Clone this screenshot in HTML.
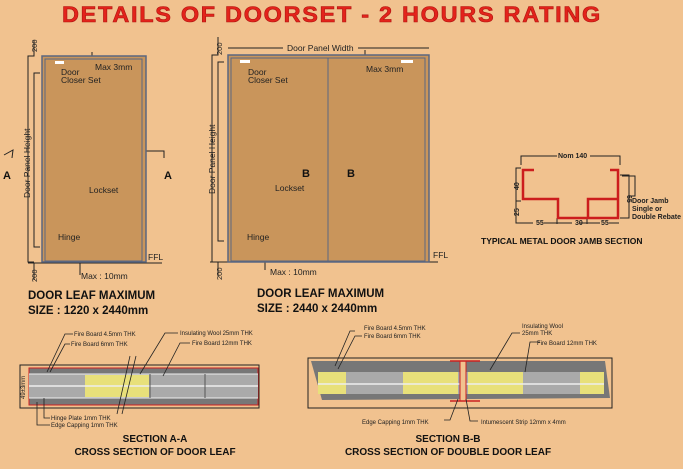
<!DOCTYPE html>
<html><head><meta charset="utf-8"><style>
html,body{margin:0;padding:0;background:#f1c28f;}
svg{display:block;font-family:"Liberation Sans",Arial,sans-serif;}
</style></head><body>
<svg width="683" height="469" viewBox="0 0 683 469">
<rect width="683" height="469" fill="#f1c28f"/>
<text x="332" y="22" text-anchor="middle" font-size="22" font-weight="bold" fill="#e3231b" stroke="#b01510" stroke-width="0.6" letter-spacing="1.6" textLength="540" lengthAdjust="spacingAndGlyphs">DETAILS OF DOORSET - 2 HOURS RATING</text>

<!-- Single door -->
<g stroke="#222" fill="none" stroke-width="1">
<polyline points="34,40 34,56 28,56 28,262 34,262"/>
<polyline points="40,73 34,73 34,247 40,247"/>
<line x1="28" y1="263" x2="162" y2="263"/>
<line x1="34" y1="263" x2="34" y2="280"/>
<line x1="92" y1="52" x2="92" y2="62"/>
<line x1="80" y1="255" x2="80" y2="275"/>
<polyline points="4,155 13,150 12,158"/>
<polyline points="145,151 164,151 164,158"/>
<path d="M122,160 q8,0 12,6"/>
<path d="M48,240 q2,-5 4,-6"/>
<polyline points="53,62 53,74 58,74"/>
</g>
<rect x="42" y="56" width="104" height="206" fill="#c9955b" stroke="#5a6680" stroke-width="1.5"/>
<rect x="45" y="59" width="97" height="202" fill="none" stroke="#5a6680" stroke-width="1"/>
<rect x="55" y="61" width="9" height="3" fill="#fff"/>
<g font-size="8.5" fill="#222">
<text x="61" y="75">Door</text><text x="61" y="83">Closer Set</text>
<text x="95" y="70">Max 3mm</text>
<text x="89" y="193">Lockset</text>
<text x="58" y="240">Hinge</text>
<text x="148" y="260">FFL</text>
<text x="81" y="279">Max : 10mm</text>
<text transform="translate(30,198) rotate(-90)">Door Panel Height</text>
<text transform="translate(37,52) rotate(-90)" font-size="7.5">200</text>
<text transform="translate(37,282) rotate(-90)" font-size="7.5">200</text>
</g>
<text x="3" y="179" font-size="11" font-weight="bold" fill="#111">A</text>
<text x="164" y="179" font-size="11" font-weight="bold" fill="#111">A</text>
<text x="28" y="299" font-size="11.5" font-weight="bold" fill="#111">DOOR LEAF MAXIMUM</text>
<text x="28" y="314" font-size="11.5" font-weight="bold" fill="#111">SIZE : 1220 x 2440mm</text>

<!-- Double door -->
<g stroke="#222" fill="none" stroke-width="1">
<polyline points="218,37 218,55 212,55 212,262 218,262"/>
<polyline points="224,62 218,62 218,241 224,241"/>
<line x1="210" y1="262" x2="438" y2="262"/>
<line x1="218" y1="262" x2="218" y2="276"/>
<line x1="228" y1="48" x2="283" y2="48"/>
<line x1="358" y1="48" x2="429" y2="48"/>
<line x1="365" y1="50" x2="365" y2="63"/>
<line x1="265" y1="256" x2="265" y2="270"/>
<polyline points="313,150 313,148 350,148 350,150"/>
<polyline points="312,152 305,160 309,160"/>
<polyline points="345,146 352,160 348,160"/>
<path d="M310,187 q5,0 8,5"/>
<path d="M233,240 q2,-4 6,-4"/>
<polyline points="242,62 242,73 246,73"/>
</g>
<rect x="228" y="55" width="201" height="207" fill="#c9955b" stroke="#5a6680" stroke-width="1.5"/>
<rect x="231" y="58" width="194" height="203" fill="none" stroke="#5a6680" stroke-width="1"/>
<line x1="328" y1="58" x2="328" y2="261" stroke="#5a6680" stroke-width="1"/>
<rect x="240" y="60" width="10" height="3" fill="#fff"/>
<rect x="401" y="60" width="12" height="3" fill="#fff"/>
<g font-size="8.5" fill="#222">
<text x="287" y="51">Door Panel Width</text>
<text x="248" y="75">Door</text><text x="248" y="83">Closer Set</text>
<text x="366" y="72">Max 3mm</text>
<text x="275" y="191">Lockset</text>
<text x="247" y="240">Hinge</text>
<text x="433" y="258">FFL</text>
<text x="270" y="275">Max : 10mm</text>
<text transform="translate(215,194) rotate(-90)">Door Panel Height</text>
<text transform="translate(222,55) rotate(-90)" font-size="7.5">200</text>
<text transform="translate(222,280) rotate(-90)" font-size="7.5">200</text>
</g>
<text x="302" y="177" font-size="11" font-weight="bold" fill="#111">B</text>
<text x="347" y="177" font-size="11" font-weight="bold" fill="#111">B</text>
<text x="257" y="297" font-size="11.5" font-weight="bold" fill="#111">DOOR LEAF MAXIMUM</text>
<text x="257" y="312" font-size="11.5" font-weight="bold" fill="#111">SIZE : 2440 x 2440mm</text>

<!-- Jamb -->
<g stroke="#222" fill="none" stroke-width="1">
<polyline points="521,165 521,156 557,156"/>
<polyline points="590,156 620,156 620,165"/>
<polyline points="521,168 516,168 516,201 521,201"/>
<polyline points="516,201 516,223 522,223"/>
<polyline points="522,223 533,223"/><polyline points="544,223 572,223"/>
<polyline points="579,223 600,223"/><polyline points="609,223 619,223"/>
<line x1="557" y1="218" x2="557" y2="224"/><line x1="587" y1="218" x2="587" y2="224"/>
<polyline points="620,175 629,175 629,218 620,218"/>
<polyline points="622,176 635,176 635,196 630,196"/>
</g>
<path d="M534,170 L523,170 L523,199 L558,199 L558,218 L618,218 L618,170 L610,170 M588,218 L588,199 L618,199" fill="none" stroke="#cc1d1d" stroke-width="2.5"/>
<g font-size="7" fill="#222" font-weight="bold">
<text x="558" y="158">Nom 140</text>
<text x="536" y="225">55</text><text x="575" y="225">30</text><text x="601" y="225">55</text>
<text transform="translate(519,190) rotate(-90)">40</text>
<text transform="translate(519,216) rotate(-90)">25</text>
<text transform="translate(627,195) rotate(90)">65</text>
<text x="632" y="203">Door Jamb</text><text x="632" y="211">Single or</text><text x="632" y="219">Double Rebate</text>
</g>
<text x="481" y="244" font-size="8.5" font-weight="bold" fill="#111">TYPICAL METAL DOOR JAMB SECTION</text>

<!-- Section A-A -->
<rect x="20" y="365" width="239" height="43" fill="#f1c28f" stroke="#222"/>
<rect x="29" y="368" width="229" height="37" fill="#777" stroke="#c22" stroke-width="1"/>
<rect x="29" y="374" width="229" height="24" fill="#aaa"/>
<rect x="85" y="375" width="64" height="22" fill="#e8e07a"/>
<line x1="29" y1="386" x2="258" y2="386" stroke="#eee" stroke-width="1.5"/>
<line x1="29" y1="374" x2="258" y2="374" stroke="#eee" stroke-width="1"/>
<line x1="29" y1="398" x2="258" y2="398" stroke="#eee" stroke-width="1"/>
<line x1="150" y1="374" x2="150" y2="398" stroke="#555"/>
<line x1="205" y1="374" x2="205" y2="398" stroke="#555"/>
<g stroke="#222" fill="none" stroke-width="0.8">
<polyline points="73,334 65,334 47,372"/><polyline points="70,344 65,344 50,372"/>
<polyline points="178,333 165,333 140,374"/><polyline points="190,343 180,343 163,376"/>
<line x1="130" y1="356" x2="117" y2="414"/><line x1="136" y1="356" x2="122" y2="414"/>
<polyline points="44,398 44,418 50,418"/><polyline points="37,402 37,425 50,425"/>
</g>
<g font-size="6" fill="#222">
<text x="74" y="336">Fire Board 4.5mm THK</text><text x="71" y="346">Fire Board 6mm THK</text>
<text x="180" y="335">Insulating Wool 25mm THK</text><text x="192" y="345">Fire Board 12mm THK</text>
<text x="51" y="420">Hinge Plate 1mm THK</text><text x="51" y="427">Edge Capping 1mm THK</text>
<text transform="translate(25,399) rotate(-90)" font-size="6">49±3mm</text>
</g>
<text x="155" y="442" text-anchor="middle" font-size="10" font-weight="bold" fill="#111">SECTION A-A</text>
<text x="155" y="455" text-anchor="middle" font-size="10" font-weight="bold" fill="#111">CROSS SECTION OF DOOR LEAF</text>

<!-- Section B-B -->
<rect x="308" y="358" width="304" height="50" fill="#f1c28f" stroke="#222"/>
<polygon points="311,361 605,361 610,398 322,400" fill="#777"/>
<rect x="318" y="372" width="286" height="22" fill="#aaa"/>
<rect x="318" y="372" width="28" height="22" fill="#e8e07a"/>
<rect x="403" y="372" width="55" height="22" fill="#e8e07a"/>
<rect x="468" y="372" width="55" height="22" fill="#e8e07a"/>
<rect x="580" y="372" width="24" height="22" fill="#e8e07a"/>
<line x1="318" y1="384" x2="604" y2="384" stroke="#eee" stroke-width="1.5"/>
<rect x="460" y="361" width="6" height="40" fill="#f1c28f" stroke="#c22"/>
<line x1="450" y1="361" x2="480" y2="361" stroke="#c22" stroke-width="1.5"/>
<line x1="450" y1="401" x2="480" y2="401" stroke="#c22" stroke-width="1.5"/>
<g stroke="#222" fill="none" stroke-width="0.8">
<polyline points="355,331 350,331 335,366"/><polyline points="362,336 355,336 338,369"/>
<polyline points="520,333 512,333 490,370"/><polyline points="540,342 530,342 525,372"/>
<polyline points="444,420 450,420 458,399"/><polyline points="478,421 470,421 466,399"/>
</g>
<g font-size="6" fill="#222">
<text x="364" y="330">Fire Board 4.5mm THK</text><text x="364" y="338">Fire Board 6mm THK</text>
<text x="522" y="328">Insulating Wool</text><text x="522" y="335">25mm THK</text>
<text x="537" y="345">Fire Board 12mm THK</text>
<text x="362" y="424">Edge Capping 1mm THK</text><text x="481" y="424">Intumescent Strip 12mm x 4mm</text>
</g>
<text x="448" y="442" text-anchor="middle" font-size="10" font-weight="bold" fill="#111">SECTION B-B</text>
<text x="448" y="455" text-anchor="middle" font-size="10" font-weight="bold" fill="#111">CROSS SECTION OF DOUBLE DOOR LEAF</text>
</svg>
</body></html>
